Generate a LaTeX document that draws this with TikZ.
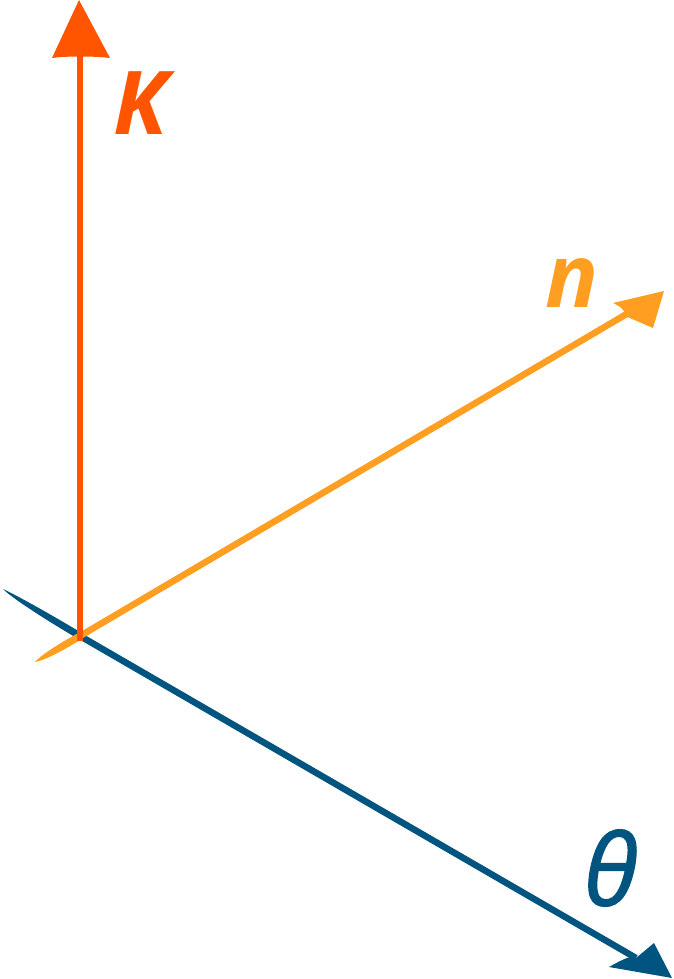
\documentclass[tikz,border=0pt]{standalone}
\usepackage{fontspec}
\usetikzlibrary{calc}
\newfontfamily\labfont{Open Sans}
\newfontfamily\thfont{Open Sans}[FakeBold=1.3]
\definecolor{kapcol}{HTML}{FF5500}
\definecolor{ncol}{HTML}{FF9E20}
\definecolor{thcol}{HTML}{005580}
\tikzset{
  axisline/.style={line width=6.5pt},
  lab/.style={font=\labfont\bfseries\itshape\fontsize{88}{88}\selectfont, inner sep=0pt, anchor=center},
  thlab/.style={font=\thfont\itshape\fontsize{99}{99}\selectfont, inner sep=0pt, anchor=center},
}
\begin{document}
\begin{tikzpicture}[x=1pt,y=-1pt]
\useasboundingbox (0,0) rectangle (673,979);
% key points
\coordinate (O) at (80,636);
\coordinate (kbase) at (80,56);
\coordinate (nbase) at (630,312);
\coordinate (tbase) at (636,958);
% theta axis (blue)
\draw[axisline, draw=thcol] (O) -- (tbase);
\fill[thcol] (81.8,633) .. controls (43.3,610) and (15.7,594.9) .. (3,589)
  .. controls (13.3,598.9) and (39.7,616) .. (78.2,639) -- cycle;
\fill[thcol] (672,978) -- (609,967) .. controls (625,958) and (632,955) .. (636,958) -- (654,943) -- cycle;
% n axis (orange)
\draw[axisline, draw=ncol] (O) -- (nbase);
\fill[ncol] (78.2,633) .. controls (55.7,645.5) and (40.5,655.6) .. (35,662)
  .. controls (43.5,660.6) and (59.8,652.5) .. (81.8,639) -- cycle;
\fill[ncol] (664,291) -- (613,303) .. controls (622,307) and (626,312) .. (625,316) -- (653,328) -- cycle;
% kappa axis (red-orange)
\draw[axisline, draw=kapcol] (80,641) -- (kbase);
\fill[kapcol] (79,0) -- (110,58) .. controls (95,56) and (65,56) .. (52,58) -- cycle;
% labels
\node[lab, text=kapcol] (kl) at (140,103) {K};
\node[lab, text=ncol] (nl) at (572,283) {n};
\node[thlab, text=thcol] (tl) at (611,868) {θ};
\end{tikzpicture}
\end{document}
